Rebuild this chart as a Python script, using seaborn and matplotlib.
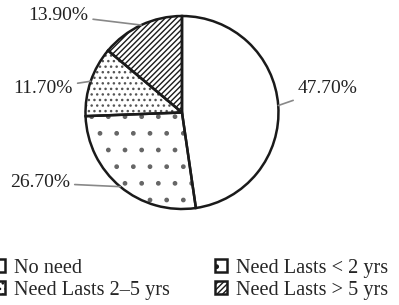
import matplotlib
matplotlib.use("Agg")
import matplotlib.pyplot as plt
import seaborn as sns
from matplotlib.patches import Patch
import numpy as np

# Datos del gráfico
categorias = ["No need", "Need Lasts < 2 yrs", "Need Lasts 2\u20135 yrs", "Need Lasts > 5 yrs"]
valores = [47.7, 26.7, 11.7, 13.9]
etiquetas = ["47.70%", "26.70%", "11.70%", "13.90%"]
tramas = ["", ".", "...", "//////"]
color_trama = ["#1a1a1a", "#666666", "#555555", "#1a1a1a"]

sns.set_style("white")
plt.rcParams['font.family'] = ['Liberation Serif', 'DejaVu Serif']

fig = plt.figure(figsize=(3.99, 3.05), dpi=100)
ax = fig.add_axes([0, 0, 1, 1])

# primera capa: relleno con tramas
relleno, _ = ax.pie(valores, startangle=90, counterclock=False, radius=1,
                    colors=["white"] * 4, wedgeprops=dict(linewidth=0))
for w, h, c in zip(relleno, tramas, color_trama):
    w.set_hatch(h)
    w.set_edgecolor(c)
    w.set_linewidth(0)

# segunda capa: bordes negros
wedges, _ = ax.pie(valores, startangle=90, counterclock=False, radius=1,
                   colors=["none"] * 4,
                   wedgeprops=dict(edgecolor="#1a1a1a", linewidth=1.8))

# posiciones del texto de cada etiqueta (coordenadas de datos)
pos_texto = [(1.20, 0.25, "left"), (-1.16, -0.73, "right"),
             (-1.13, 0.25, "right"), (-0.97, 1.01, "right")]
for w, lab, (tx, ty, ha) in zip(wedges, etiquetas, pos_texto):
    ang = np.deg2rad((w.theta1 + w.theta2) / 2)
    px, py = np.cos(ang), np.sin(ang)
    ax.annotate(lab, xy=(px, py), xytext=(tx, ty), ha=ha, va="center",
                fontsize=14, color="#222222",
                arrowprops=dict(arrowstyle="-", color="#888888", lw=1.2,
                                shrinkA=1, shrinkB=0))

ax.set_xlim(-1.886, 2.249)
ax.set_ylim(-1.995, 1.166)
ax.axis("off")

handles = [Patch(facecolor="white", edgecolor="#1a1a1a", hatch=h, linewidth=1.8)
           for h in tramas]
orden = [0, 2, 1, 3]
fig.legend([handles[i] for i in orden], [categorias[i] for i in orden],
           loc="upper left", bbox_to_anchor=(-0.016, 0.152), ncol=2, frameon=False,
           fontsize=14.6, handlelength=0.55, handleheight=0.55, handletextpad=0.45,
           columnspacing=2.25, labelspacing=0.15, borderaxespad=0, borderpad=0)

fig.savefig("out.png", dpi=100)
